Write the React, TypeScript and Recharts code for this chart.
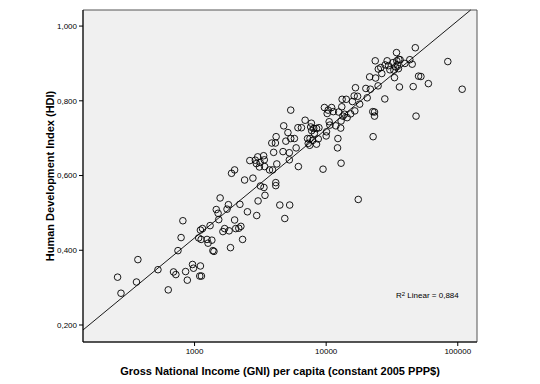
import React from 'react';
import { ScatterChart, Scatter, XAxis, YAxis, ReferenceArea, ReferenceLine } from 'recharts';

// GNI per capita (constant 2005 PPP$) per country
const gni = [
  260, 276, 371, 362, 527, 631, 692, 721, 748, 790,
  815, 855, 881, 965, 982, 1075, 1095, 1108, 1128, 1108,
  1149, 1122, 1243, 1266, 1312, 1353, 1378, 1404, 1462, 1509,
  1526, 1564, 1642, 1692, 1765, 1808, 1830, 1875, 1910, 2015,
  2015, 2054, 2168, 2210, 2249, 2317, 2400, 2522, 2630, 2776,
  2895, 2948, 2966, 3019, 3038, 3110, 3147, 3165, 3348, 3388,
  3408, 3368, 3428, 3711, 3917, 3990, 3862, 4115, 4166, 4216,
  4140, 4140, 4444, 4700, 4758, 4848, 4940, 5122, 5250, 5250,
  5282, 5380, 5380, 5735, 5913, 6100, 6150, 6490, 6920, 7220,
  7310, 7500, 7540, 7625, 7720, 7760, 7900, 8045, 8140, 8444,
  8444, 8710, 8810, 9465, 9700, 10000, 10060, 10180, 10360, 10540,
  10670, 11000, 11340, 11845, 12200, 12280, 12440, 12900, 12980, 12980,
  13140, 13220, 13400, 13800, 14210, 14440, 15350, 15840, 16510, 16700,
  16320, 17330, 17530, 17970, 20030, 20500, 21400, 21670, 22600, 22740,
  23300, 23300, 23600, 23750, 24800, 24900, 25990, 26460, 27900, 28060,
  29070, 29780, 30500, 32120, 32700, 33050, 33640, 34240, 34420, 34810,
  35420, 35620, 36040, 36450, 39640, 43220, 45050, 45840, 47570, 48180,
  50360, 52480, 59800, 84000, 108000,
];

// Human Development Index, same order as gni
const hdi = [
  0.328, 0.285, 0.375, 0.315, 0.348, 0.294, 0.342, 0.335, 0.399, 0.434,
  0.479, 0.343, 0.320, 0.362, 0.352, 0.433, 0.331, 0.358, 0.331, 0.454,
  0.458, 0.429, 0.429, 0.419, 0.466, 0.427, 0.399, 0.397, 0.509, 0.499,
  0.482, 0.540, 0.450, 0.458, 0.510, 0.522, 0.452, 0.407, 0.606, 0.615,
  0.481, 0.458, 0.459, 0.523, 0.464, 0.429, 0.588, 0.503, 0.640, 0.593,
  0.641, 0.632, 0.493, 0.650, 0.532, 0.623, 0.635, 0.572, 0.653, 0.642,
  0.624, 0.568, 0.547, 0.615, 0.615, 0.662, 0.687, 0.687, 0.704, 0.631,
  0.581, 0.573, 0.521, 0.664, 0.733, 0.485, 0.692, 0.715, 0.661, 0.642,
  0.521, 0.775, 0.699, 0.699, 0.674, 0.728, 0.624, 0.728, 0.748, 0.699,
  0.686, 0.681, 0.699, 0.730, 0.740, 0.720, 0.694, 0.726, 0.713, 0.684,
  0.726, 0.698, 0.728, 0.617, 0.782, 0.706, 0.717, 0.766, 0.775, 0.744,
  0.735, 0.782, 0.771, 0.733, 0.674, 0.699, 0.770, 0.727, 0.746, 0.633,
  0.784, 0.804, 0.759, 0.764, 0.804, 0.755, 0.765, 0.798, 0.773, 0.835,
  0.813, 0.812, 0.536, 0.791, 0.833, 0.808, 0.864, 0.831, 0.771, 0.704,
  0.759, 0.770, 0.907, 0.861, 0.840, 0.885, 0.889, 0.873, 0.805, 0.896,
  0.907, 0.894, 0.883, 0.902, 0.882, 0.862, 0.891, 0.929, 0.907, 0.896,
  0.886, 0.911, 0.837, 0.910, 0.900, 0.910, 0.898, 0.838, 0.942, 0.759,
  0.866, 0.865, 0.846, 0.905, 0.831,
];

const xTicks = [1000, 10000, 100000];
const yTicks = [0.2, 0.4, 0.6, 0.8, 1.0];
const xDomain = [142, 140000];
const yDomain = [0.1545, 1.043];

// linear fit of HDI on log10(GNI)
const fitIntercept = -0.439;
const fitSlope = 0.2907;
const rSquared = 0.884;

const FONT = '"Liberation Sans", Arial, sans-serif';

const points = gni.map((g, i) => ({ gni: g, hdi: hdi[i] }));

const fitAt = (x: number) => fitIntercept + fitSlope * Math.log10(x);
const fitStartX = xDomain[0];
const fitEndX = Math.min(xDomain[1], Math.pow(10, (yDomain[1] - fitIntercept) / fitSlope));

const Ring = (props: any) => {
  const { cx, cy } = props;
  if (cx == null || cy == null) return null;
  return <circle cx={cx} cy={cy} r={3.3} fill="none" stroke="#000" strokeWidth={0.9} />;
};

const XTitle = (props: any) => {
  const vb = props.viewBox;
  return (
    <text x={vb.x + vb.width / 2} y={371} textAnchor="middle" dominantBaseline="central"
      fontFamily={FONT} fontWeight="bold" fontSize={11} fill="#000">
      Gross National Income (GNI) per capita (constant 2005 PPP$)
    </text>
  );
};

const YTitle = (props: any) => {
  const vb = props.viewBox;
  const cx = 50;
  const cy = vb.y + vb.height / 2;
  return (
    <text x={cx} y={cy} transform={`rotate(-90 ${cx} ${cy})`} textAnchor="middle" dominantBaseline="central"
      fontFamily={FONT} fontWeight="bold" fontSize={11} fill="#000">
      Human Development Index (HDI)
    </text>
  );
};

export default function App() {
  return (
    <div style={{ position: 'absolute', left: 0, top: 0, width: 540, height: 384, background: '#fff', fontFamily: FONT }}>
      <ScatterChart width={540} height={384} margin={{ top: 10, right: 63, bottom: 0, left: 0 }}>
        <ReferenceArea x1={xDomain[0]} x2={xDomain[1]} y1={yDomain[0]} y2={yDomain[1]}
          fill="#f0f0f0" fillOpacity={1} stroke="#555" strokeWidth={1} />
        <XAxis dataKey="gni" type="number" scale="log" domain={xDomain} ticks={xTicks} allowDataOverflow
          height={42} tickSize={4} tick={{ fontSize: 8, fill: '#000', fontFamily: FONT }}
          axisLine={{ stroke: '#000' }} tickLine={{ stroke: '#000' }}
          tickFormatter={(v) => String(v)} label={<XTitle />} />
        <YAxis dataKey="hdi" type="number" domain={yDomain} ticks={yTicks} allowDataOverflow
          width={83} tickSize={4} tick={{ fontSize: 8, fill: '#000', fontFamily: FONT }}
          axisLine={{ stroke: '#000' }} tickLine={{ stroke: '#000' }}
          tickFormatter={(v) => v.toFixed(3).replace('.', ',')} label={<YTitle />} />
        <ReferenceLine segment={[{ x: fitStartX, y: fitAt(fitStartX) }, { x: fitEndX, y: fitAt(fitEndX) }]}
          stroke="#000" strokeWidth={0.9} />
        <Scatter data={points} shape={<Ring />} isAnimationActive={false} />
      </ScatterChart>
      <div style={{ position: 'absolute', left: 396, top: 291, fontSize: 8, lineHeight: '10px', color: '#000', whiteSpace: 'nowrap' }}>
        R<sup style={{ fontSize: 6, verticalAlign: 'top', lineHeight: '6px' }}>2</sup> Linear = {rSquared.toFixed(3).replace('.', ',')}
      </div>
    </div>
  );
}
